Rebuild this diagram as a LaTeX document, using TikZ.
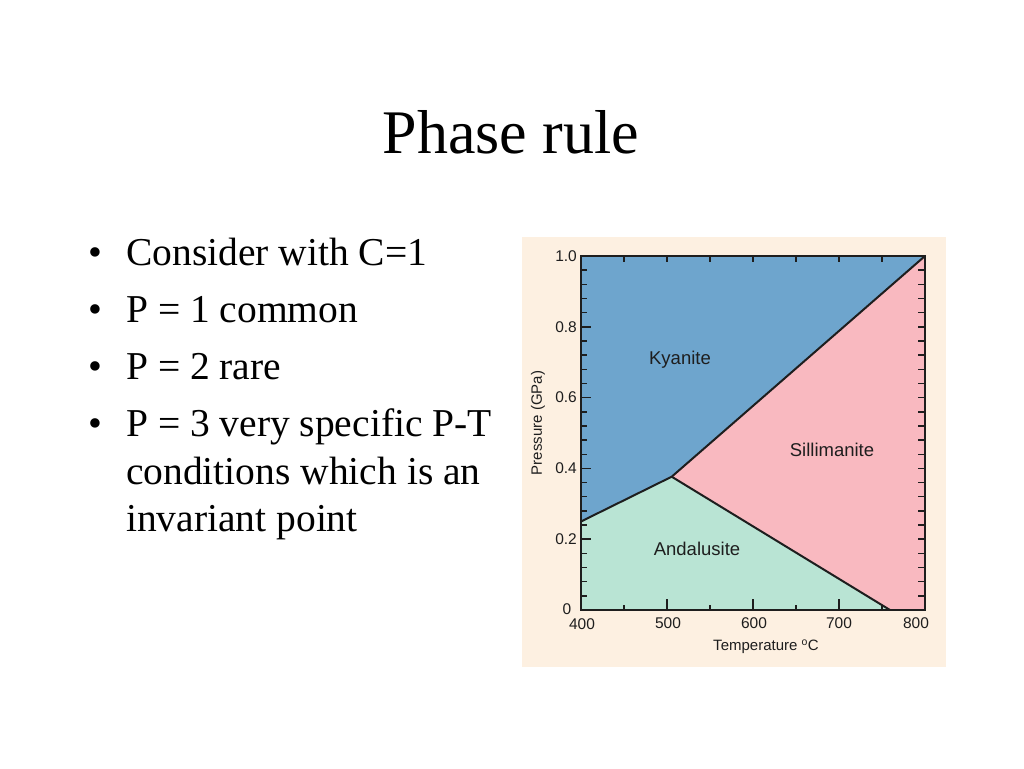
\documentclass[tikz,border=0pt]{standalone}
\usepackage{fontspec}
\setmainfont{Liberation Serif}
\newfontfamily\plotfont{Liberation Sans}
\definecolor{kyblue}{RGB}{110,165,205}
\definecolor{silpink}{RGB}{249,185,192}
\definecolor{andmint}{RGB}{185,228,212}
\definecolor{panelbg}{RGB}{253,240,225}
\definecolor{ink}{RGB}{30,30,30}
\tikzset{
  bullettext/.style={anchor=base west, inner sep=0pt, font=\fontsize{39.5}{47}\selectfont},
  ticklab/.style={inner sep=0pt, text=ink, font=\plotfont\fontsize{15.5}{18}\selectfont},
  regionlab/.style={inner sep=0pt, text=ink, font=\plotfont\fontsize{18.5}{22}\selectfont},
  boundary/.style={draw=ink, line width=2pt, line join=round},
  tickline/.style={draw=ink, line width=1.5pt},
}
\begin{document}
\begin{tikzpicture}[x=1pt,y=-1pt]
\useasboundingbox (0,0) rectangle (1024,768);
\fill[white] (0,0) rectangle (1024,768);

% title
\node[anchor=base, inner sep=0pt, font=\fontsize{62}{74}\selectfont] (title) at (511,153) {Phase rule};

% bullets
\foreach \yy/\nm in {265/b1,322.7/b2,379.5/b3,436.7/b4}{
  \node[bullettext] (\nm) at (88,\yy) {•};
}
\node[bullettext] (t1) at (126,265) {Consider with C=1};
\node[bullettext] (t2) at (126,322.7) {P = 1 common};
\node[bullettext] (t3) at (126,379.5) {P = 2 rare};
\node[bullettext] (t4) at (126,436.7) {P = 3 very specific P-T};
\node[bullettext] (t5) at (126,484.2) {conditions which is an};
\node[bullettext] (t6) at (126,531.7) {invariant point};

% plot panel
\fill[panelbg] (522,237) rectangle (946,667);
\coordinate (tl) at (581,256);
\coordinate (tr) at (925,256);
\coordinate (br) at (925,610);
\coordinate (bl) at (581,610);
\coordinate (kyand) at (581,521.5);
\coordinate (tp) at (671.7,476.7);
\coordinate (andsil) at (890,610);

\fill[kyblue] (tl) -- (tr) -- (tp) -- (kyand) -- cycle;
\fill[silpink] (tr) -- (br) -- (andsil) -- (tp) -- cycle;
\fill[andmint] (kyand) -- (tp) -- (andsil) -- (bl) -- cycle;

% ticks
\foreach \i in {1,...,24}{
  \pgfmathsetmacro\yy{610-\i*354*0.04}
  \draw[tickline] (581,\yy) -- ++(6,0);
  \draw[tickline] (925,\yy) -- ++(-7,0);
}
\foreach \i in {5,10,15,20}{
  \pgfmathsetmacro\yy{610-\i*354*0.04}
  \draw[tickline] (581,\yy) -- ++(10,0);
}
\foreach \t in {450,550,650,750}{
  \pgfmathsetmacro\xx{581+(\t-400)*0.86}
  \draw[tickline] (\xx,610) -- ++(0,-5);
}
\foreach \t in {500,600,700}{
  \pgfmathsetmacro\xx{581+(\t-400)*0.86}
  \draw[tickline] (\xx,610) -- ++(0,-11);
}
\foreach \t in {450,500,...,750}{
  \pgfmathsetmacro\xx{581+(\t-400)*0.86}
  \draw[tickline] (\xx,256) -- ++(0,6);
}

% boundaries
\draw[boundary] (kyand) -- (tp) -- (tr);
\draw[boundary] (tp) -- (andsil);
\draw[draw=ink, line width=1.8pt] (bl) rectangle (tr);

% tick labels
\node[ticklab, anchor=east] (y10) at (577,256) {1.0};
\node[ticklab, anchor=east] (y08) at (577,326.8) {0.8};
\node[ticklab, anchor=east] (y06) at (577,397.6) {0.6};
\node[ticklab, anchor=east] (y04) at (577,468.4) {0.4};
\node[ticklab, anchor=east] (y02) at (577,539.2) {0.2};
\node[ticklab] (y00) at (567,609.5) {0};
\node[ticklab] (x400) at (582,624) {400};
\node[ticklab] (x500) at (668,623) {500};
\node[ticklab] (x600) at (754,623) {600};
\node[ticklab] (x700) at (839,623) {700};
\node[ticklab] (x800) at (916,623) {800};
\node[ticklab, font=\plotfont\fontsize{15}{18}\selectfont] (xlab) at (766,647) {Temperature \textsuperscript{o}C};
\node[ticklab, font=\plotfont\fontsize{15}{18}\selectfont, rotate=90] (ylab) at (538,423) {Pressure (GPa)};

% region labels
\node[regionlab] (ky) at (680,360) {Kyanite};
\node[regionlab] (sil) at (832,450) {Sillimanite};
\node[regionlab] (and) at (697,549) {Andalusite};
\end{tikzpicture}
\end{document}
